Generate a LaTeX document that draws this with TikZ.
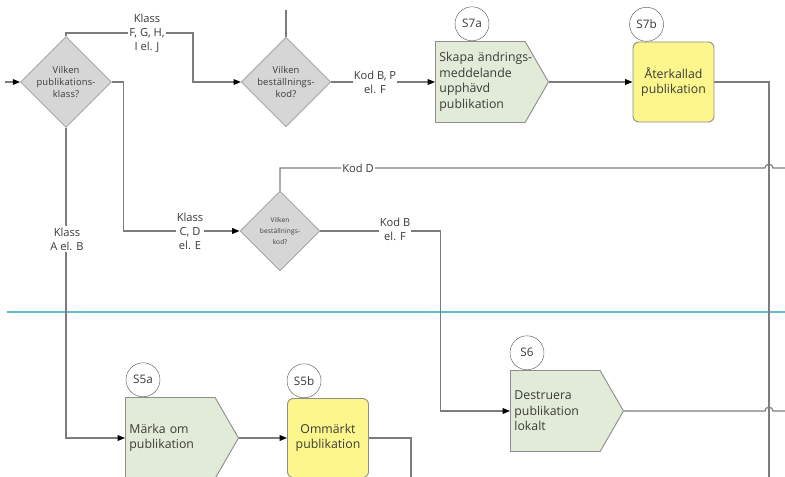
\documentclass[tikz,border=0pt]{standalone}
\usepackage{fontspec}
\setmainfont{Open Sans}
\setsansfont{Open Sans}
\newfontfamily\diafont[LetterSpace=2]{Open Sans}
\usetikzlibrary{shapes.geometric, shapes.symbols, arrows.meta, calc}
\usepackage{xcolor}
\definecolor{wiregrey}{HTML}{7c7c7c}
\definecolor{boxgrey}{HTML}{8e8e8e}
\definecolor{diafill}{HTML}{d6d6d6}
\definecolor{diaedge}{HTML}{a6a6a6}
\definecolor{actgreen}{HTML}{e2ebd8}
\definecolor{resyellow}{HTML}{fdf68c}
\definecolor{lanecyan}{HTML}{62b8cc}
\definecolor{labeltext}{HTML}{3a3a3a}
\tikzset{
  decision/.style={diamond, draw=diaedge, fill=diafill, thick,
                   minimum width=2.4cm, minimum height=2.4cm, inner sep=0pt,
                   align=center, text=labeltext,
                   font=\diafont\fontsize{8}{10.5}\selectfont},
  smalldecision/.style={decision, font=\diafont\fontsize{5.6}{9.3}\selectfont},
  actbox/.style={signal, signal to=east, signal from=nowhere,
                 signal pointer angle=120, draw=boxgrey, fill=actgreen, thick,
                 minimum width=3.39cm, minimum height=2.43cm,
                 text width=2.45cm, align=left, text=labeltext,
                 font=\fontsize{10.5}{13.2}\selectfont},
  resbox/.style={rectangle, rounded corners=5pt, draw=boxgrey, fill=resyellow,
                 thick, minimum width=2.43cm, minimum height=2.4cm,
                 align=center, text=labeltext, font=\fontsize{10.5}{13.2}\selectfont},
  stepnum/.style={circle, draw=labeltext!80, fill=white, thin,
                  minimum size=1.02cm, inner sep=0pt, text=labeltext,
                  font=\fontsize{10}{11}\selectfont},
  wire/.style={draw=wiregrey, line width=1pt},
  link/.style={wire, -{Triangle[length=2.2mm, width=1.7mm, color=black]}},
  linklabel/.style={fill=white, inner sep=1pt, align=center, text=labeltext,
                    font=\fontsize{9.5}{12}\selectfont},
  lane/.style={draw=lanecyan, line width=1pt},
}

\begin{document}
\begin{tikzpicture}[x=0.03cm, y=-0.03cm]
  \useasboundingbox (0,0) rectangle (785,477);

  % --- Swimlane border ---
  \draw[lane] (7,312) -- (785,312);

  % --- Decisions ---
  \node[decision]      (d1) at (66,82)  {Vilken\\publikations-\\klass?};
  \node[decision]      (d2) at (286,82) {Vilken\\beställnings-\\kod?};
  \node[smalldecision] (d3) at (280,231) {Vilken\\beställnings-\\kod?};

  % --- Steps ---
  \node[actbox, anchor=west] (s7a) at (435,82)
    {\mbox{Skapa ändrings-}\\meddelande\\upphävd\\publikation};
  \node[resbox] (s7b) at (673.5,82) {Återkallad\\publikation};
  \node[actbox, anchor=west] (s6) at (510,411)
    {Destruera\\publikation\\lokalt};
  \node[actbox, anchor=west] (s5a) at (125,438) {Märka om\\publikation};
  \node[resbox, minimum height=2.37cm] (s5b) at (328,438) {Ommärkt\\publikation};

  % --- Step numbers ---
  \node[stepnum, anchor=south] (n7a) at ($(s7a.north west)+(37,0)$) {S7a};
  \node[stepnum, anchor=south] (n7b) at ($(s7b.north west)+(14,0)$) {S7b};
  \node[stepnum, anchor=south] (n6)  at ($(s6.north west)+(17,0)$)  {S6};
  \node[stepnum, anchor=south] (n5a) at ($(s5a.north west)+(18,0)$) {S5a};
  \node[stepnum, anchor=south] (n5b) at ($(s5b.north west)+(17,0)$) {S5b};

  % --- Free ends ---
  \coordinate (entry)  at (5,82);
  \coordinate (feed)   at (286,10);
  \coordinate (bend1)  at (193,33);
  \coordinate (busend) at (769,477);
  \coordinate (s5bend) at (411,477);
  \coordinate (edgeD)  at (785,168);
  \coordinate (edge6)  at (785,411);

  % --- Connectors ---
  \draw[link] (entry) -- (d1.west);
  \draw[link] (d1.north) |- (bend1) |- (d2.west);
  \draw[link] (d1.east) -- ++(12,0) |- (d3.west);
  \draw[link] (d1.south) |- (s5a.west);
  \draw[wire] (feed) -- (d2.north);
  \draw[link] (d2.east) -- (s7a.west);
  \draw[link] (s7a.east) -- (s7b.west);
  \draw[wire] (s7b.east) -| (busend);
  \draw[wire] (d3.north) |- ($(busend|-edgeD)+(-4,0)$)
    .. controls +(0,-5) and +(0,-5) .. ++(8,0) -- (edgeD);
  \draw[link] (d3.east) -- ++(120,0) |- (s6.west);
  \draw[wire] (s6.east) -- ($(busend|-edge6)+(-4,0)$)
    .. controls +(0,-5) and +(0,-5) .. ++(8,0) -- (edge6);
  \draw[link] (s5a.east) -- (s5b.west);
  \draw[wire] (s5b.east) -| (s5bend);

  % --- Labels ---
  \node[linklabel] (l1) at (147,33)  {Klass\\F, G, H,\\I el. J};
  \node[linklabel] (l2) at (190,231) {Klass\\C, D\\el. E};
  \node[linklabel] (l3) at (67,239)  {Klass\\A el. B};
  \node[linklabel] (l4) at (375,82)  {Kod B, P\\el. F};
  \node[linklabel] (l5) at (395,229) {Kod B\\el. F};
  \node[linklabel] (l6) at (358,168) {Kod D};
\end{tikzpicture}
\end{document}
